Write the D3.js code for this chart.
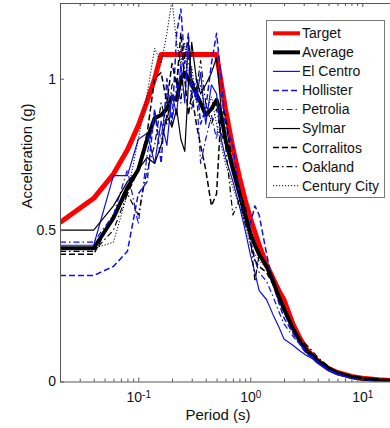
<!DOCTYPE html>
<html>
<head>
<meta charset="utf-8">
<script src="https://cdn.jsdelivr.net/npm/d3@7"></script>
<style>
  body { margin: 0; background: #fff; }
  svg { display: block; font-family: "Liberation Sans", Arial, sans-serif; }
</style>
</head>
<body>
<svg id="chart" width="390" height="428"></svg>
<script>
// periods (s) shared by the records and the average
const periods = [0.02, 0.04, 0.06, 0.08, 0.1, 0.12, 0.14, 0.16, 0.18, 0.2,
  0.22, 0.24, 0.26, 0.28, 0.3, 0.33, 0.36, 0.4, 0.45, 0.5,
  0.55, 0.6, 0.7, 0.8, 0.9, 1.0, 1.1, 1.2, 1.4, 1.6,
  1.8, 2.0, 2.4, 2.8, 3.2, 3.6, 4, 5, 6, 8,
  10, 14, 20];

const targetPeriods = [0.02, 0.04, 0.06, 0.08, 0.1, 0.12, 0.14, 0.16, 0.5, 0.6, 0.7, 0.8, 0.9, 1.0,
  1.2, 1.4, 1.6, 1.8, 2.0, 2.4, 2.8, 3.2, 4, 5, 6, 8, 10, 14, 20];
const target = [0.525, 0.605, 0.685, 0.765, 0.845, 0.925, 1.0, 1.08, 1.08, 0.90, 0.77, 0.675, 0.60, 0.54,
  0.45, 0.385, 0.34, 0.30, 0.27, 0.19, 0.14, 0.105, 0.068, 0.043, 0.03, 0.017, 0.011, 0.0055, 0.0027];

const average = [.44, .44, .54, .64, .70, .80, .87, .88, .90, .94,
  .93, 1.0, 1.02, 1.0, .98, .95, .92, .88, .90, .93,
  .88, .80, .70, .62, .55, .49, .45, .42, .38, .33,
  .28, .24, .175, .13, .10, .085, .068, .043, .028, .015,
  .009, .004, .002];
const elCentro = [.45, .45, .68, .68, .80, .82, .72, .86, .78, .95,
  .88, 1.05, .92, 1.12, 1.0, .93, 1.02, .85, .98, .95,
  .80, .74, .66, .58, .50, .42, .36, .30, .27, .22,
  .18, .14, .12, .10, .085, .075, .06, .035, .022, .012,
  .008, .004, .002];
const hollister = [.35, .35, .38, .43, .62, .66, .90, .72, 1.0, .85,
  1.15, 1.23, 1.05, 1.15, .95, 1.0, .85, .90, 1.05, 1.15,
  1.0, .85, .78, .62, .55, .52, .58, .55, .42, .32,
  .26, .21, .16, .12, .09, .08, .065, .04, .025, .014,
  .008, .004, .002];
const petrolia = [.46, .46, .55, .70, .52, .75, .88, .80, .95, .85,
  .98, 1.10, 1.0, 1.08, .90, .97, .72, .80, .88, .80,
  .95, .85, .72, .62, .56, .48, .40, .36, .33, .28,
  .23, .19, .15, .12, .10, .08, .06, .04, .025, .013,
  .008, .004, .002];
const sylmar = [.50, .50, .58, .66, .70, .74, .72, .78, .88, .84,
  .90, .80, .76, .98, 1.12, 1.0, .95, .98, 1.02, 1.07,
  .90, .80, .72, .64, .55, .50, .45, .42, .38, .33,
  .28, .24, .18, .13, .105, .09, .07, .045, .03, .016,
  .009, .004, .002];
const corralitos = [.42, .42, .55, .62, .70, .82, 1.00, 1.02, .92, 1.05,
  .98, 1.15, 1.0, .88, .95, .85, .78, .70, .58, .62,
  .90, .88, .70, .62, .58, .46, .40, .38, .36, .32,
  .27, .23, .17, .135, .11, .09, .07, .045, .03, .016,
  .009, .004, .002];
const oakland = [.43, .43, .50, .62, .55, .70, .78, .92, .85, .98,
  1.0, .92, 1.08, 1.12, 1.0, .96, 1.06, .92, .85, .90,
  .82, .78, .55, .60, .52, .48, .33, .42, .39, .34,
  .29, .25, .18, .14, .12, .10, .08, .05, .032, .017,
  .01, .005, .002];
const centuryCity = [.44, .44, .46, .62, .80, .95, 1.10, 1.05, 1.15, 1.26,
  1.12, 1.05, 1.12, .98, 1.04, .92, .98, .88, .94, .85,
  .78, .72, .64, .58, .52, .45, .42, .40, .37, .32,
  .27, .23, .17, .13, .11, .09, .07, .045, .03, .016,
  .009, .004, .002];

const series = [
  { name: "Target", x: targetPeriods, y: target, color: "#ff0000", width: 5, dash: null },
  { name: "Average", x: periods, y: average, color: "#000", width: 4, dash: null },
  { name: "El Centro", x: periods, y: elCentro, color: "#1010e8", width: 1.2, dash: null },
  { name: "Hollister", x: periods, y: hollister, color: "#1010e8", width: 1.5, dash: "6,3" },
  { name: "Petrolia", x: periods, y: petrolia, color: "#1010e8", width: 1.2, dash: "6,3,1.5,3" },
  { name: "Sylmar", x: periods, y: sylmar, color: "#000", width: 1.2, dash: null },
  { name: "Corralitos", x: periods, y: corralitos, color: "#000", width: 1.5, dash: "6,3" },
  { name: "Oakland", x: periods, y: oakland, color: "#000", width: 1.2, dash: "6,3,1.5,3" },
  { name: "Century City", x: periods, y: centuryCity, color: "#000", width: 1, dash: "1.2,1.8" }
];

const plotLeft = 60, plotRight = 396, plotTop = 3, plotBottom = 381.5;
const axisColor = "#555";

const svg = d3.select("#chart");

const x = d3.scaleLog().domain([0.02, 20]).range([plotLeft, plotRight]);
const y = d3.scaleLinear().domain([0, 1.25]).range([plotBottom, plotTop]);

svg.append("defs").append("clipPath").attr("id", "plot-clip")
  .append("rect")
  .attr("x", plotLeft).attr("y", plotTop)
  .attr("width", plotRight - plotLeft).attr("height", plotBottom - plotTop);

const line = d3.line()
  .x(d => x(d[0]))
  .y(d => y(d[1]));

const plot = svg.append("g").attr("clip-path", "url(#plot-clip)");

series.forEach(s => {
  plot.append("path")
    .datum(s.x.map((p, i) => [p, s.y[i]]))
    .attr("fill", "none")
    .attr("stroke", s.color)
    .attr("stroke-width", s.width)
    .attr("stroke-dasharray", s.dash)
    .attr("stroke-linejoin", "round")
    .attr("d", line);
});

// log axis ticks
const majorTicks = [0.1, 1, 10];
const minorTicks = [];
[0.01, 0.1, 1, 10].forEach(dec => {
  for (let k = 2; k <= 9; k++) {
    const v = +(dec * k).toPrecision(3);
    if (v >= 0.02 && v <= 20) minorTicks.push(v);
  }
});

function styleAxis(g) {
  g.select(".domain").attr("stroke", axisColor);
  g.selectAll(".tick line").attr("stroke", axisColor);
  g.selectAll(".tick text").attr("fill", "#111").attr("font-size", 14)
    .attr("font-family", "Liberation Sans, Arial, sans-serif");
}

const xAxisG = svg.append("g")
  .attr("transform", `translate(0,${plotBottom})`)
  .call(d3.axisBottom(x).tickValues(majorTicks).tickSizeInner(-4).tickSizeOuter(0).tickPadding(11))
  .call(styleAxis);

xAxisG.selectAll(".tick text")
  .text(null)
  .each(function(d) {
    const t = d3.select(this);
    t.append("tspan").text("10");
    t.append("tspan").attr("dy", "-0.45em").attr("font-size", 10).text(Math.round(Math.log10(d)));
  });

svg.append("g")
  .attr("transform", `translate(0,${plotBottom})`)
  .call(d3.axisBottom(x).tickValues(minorTicks).tickSizeInner(-3).tickSizeOuter(0).tickFormat(""))
  .call(styleAxis)
  .select(".domain").remove();

svg.append("g")
  .attr("transform", `translate(0,${plotTop})`)
  .call(d3.axisTop(x).tickValues(majorTicks).tickSizeInner(-4).tickSizeOuter(0).tickFormat(""))
  .call(styleAxis);

svg.append("g")
  .attr("transform", `translate(0,${plotTop})`)
  .call(d3.axisTop(x).tickValues(minorTicks).tickSizeInner(-3).tickSizeOuter(0).tickFormat(""))
  .call(styleAxis)
  .select(".domain").remove();

svg.append("g")
  .attr("transform", `translate(${plotLeft},0)`)
  .call(d3.axisLeft(y).tickValues([0, 0.5, 1]).tickSizeInner(-4).tickSizeOuter(0).tickPadding(4)
    .tickFormat(d3.format("")))
  .call(styleAxis);

// axis titles
svg.append("text")
  .attr("x", 218).attr("y", 420)
  .attr("text-anchor", "middle")
  .attr("font-size", 15)
  .attr("fill", "#111")
  .text("Period (s)");

svg.append("text")
  .attr("transform", "translate(32,156) rotate(-90)")
  .attr("text-anchor", "middle")
  .attr("font-size", 15)
  .attr("fill", "#111")
  .text("Acceleration (g)");

// legend
const legend = svg.append("g");
legend.append("rect")
  .attr("x", 266.5).attr("y", 20.5)
  .attr("width", 118).attr("height", 177)
  .attr("fill", "#fff")
  .attr("stroke", "#777");

series.forEach((s, i) => {
  const ly = 33.3 + i * 19.05;
  legend.append("line")
    .attr("x1", 273).attr("x2", 300)
    .attr("y1", ly).attr("y2", ly)
    .attr("stroke", s.color)
    .attr("stroke-width", Math.min(s.width, 4))
    .attr("stroke-dasharray", s.dash);
  legend.append("text")
    .attr("x", 302).attr("y", ly)
    .attr("dy", "0.35em")
    .attr("font-size", 14)
    .attr("fill", "#111")
    .text(s.name);
});
</script>
</body>
</html>
